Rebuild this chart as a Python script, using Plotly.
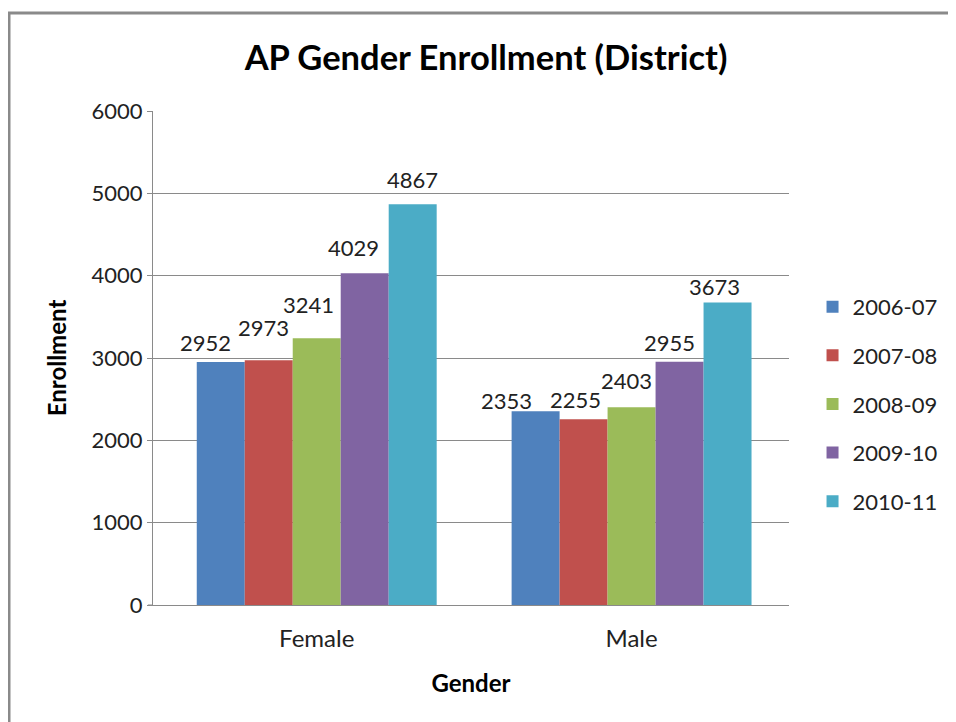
import plotly.graph_objects as go

categories = ["Female", "Male"]
years = ["2006-07", "2007-08", "2008-09", "2009-10", "2010-11"]
v_2006_07 = [2952, 2353]
v_2007_08 = [2973, 2255]
v_2008_09 = [3241, 2403]
v_2009_10 = [4029, 2955]
v_2010_11 = [4867, 3673]
series = [v_2006_07, v_2007_08, v_2008_09, v_2009_10, v_2010_11]
colors = ["#4F81BD", "#C0504D", "#9BBB59", "#8064A2", "#4BACC6"]
y_ticks = [0, 1000, 2000, 3000, 4000, 5000, 6000]

# label placement offsets (pixels) per series, per category: (dx, dy above bar top)
label_dx = [[-15, -29], [-5, -8], [-8, -5], [-11, -10], [0, -13]]
label_dy = [[19, 11], [33, 20], [34, 27], [26, 19], [25, 16]]

FONT = "Lato"
L, T = 145, 103
PW, PH = 636, 494
BARGAP = 0.238
NS = len(series)

fig = go.Figure()
for name, vals, col in zip(years, series, colors):
    fig.add_trace(go.Bar(
        x=categories, y=vals, name=name, legendgroup=name,
        marker=dict(color=col, line=dict(width=0)),
    ))

bar_w = (1 - BARGAP) / NS
for i, vals in enumerate(series):
    for j, v in enumerate(vals):
        fig.add_annotation(
            x=j + (i - (NS - 1) / 2) * bar_w, y=v, xref="x", yref="y",
            text=str(v), showarrow=False, xanchor="center", yanchor="middle",
            xshift=label_dx[i][j], yshift=label_dy[i][j],
            font=dict(family=FONT, size=22, color="#222222"),
        )

fig.update_layout(
    width=956, height=722,
    margin=dict(l=L, r=956 - L - PW, t=T, b=722 - T - PH),
    paper_bgcolor="white", plot_bgcolor="white",
    barmode="group", bargap=BARGAP, bargroupgap=0,
    font=dict(family=FONT, size=22, color="#222222"),
    title=dict(text="<b>AP Gender Enrollment (District)</b>", x=0.50, xref="container",
               xanchor="center", y=0.931, yref="container", yanchor="middle",
               font=dict(family=FONT, size=34.5, color="#000000")),
    legend=dict(x=1.037, xanchor="left", y=0.407, yanchor="middle",
                font=dict(family=FONT, size=22, color="#222222"),
                tracegroupgap=17, itemwidth=30, bgcolor="rgba(0,0,0,0)"),
    showlegend=True,
)
fig.update_yaxes(
    range=[0, 6000], tickvals=y_ticks, ticktext=[str(t) for t in y_ticks],
    showgrid=True, gridcolor="#8a8a8a", gridwidth=1,
    showline=True, linecolor="#8a8a8a", linewidth=1,
    ticks="outside", ticklen=5, tickcolor="#8a8a8a",
    tickfont=dict(family=FONT, size=22, color="#222222"),
    zeroline=False,
    title=dict(text="<b>Enrollment</b>", font=dict(family=FONT, size=24, color="#000000"), standoff=18),
)
fig.update_xaxes(
    type="category", range=[-0.52, 1.5],
    showline=True, linecolor="#8a8a8a", linewidth=1,
    ticks="outside", ticklen=12, tickcolor="rgba(0,0,0,0)",
    tickfont=dict(family=FONT, size=24, color="#222222"),
    title=dict(text="<b>Gender</b>", font=dict(family=FONT, size=24, color="#000000"), standoff=24),
)
fig.add_shape(type="rect", xref="paper", yref="paper",
              x0=(1 - L) / PW, x1=1.6, y0=-0.6, y1=(T + PH - 5) / PH,
              line=dict(color="#8a8a8a", width=3), fillcolor="rgba(0,0,0,0)", layer="above")
fig.add_shape(type="line", xref="paper", yref="paper",
              x0=-0.008, x1=0, y0=0, y1=0,
              line=dict(color="#8a8a8a", width=1))

fig.write_html("out.html")
